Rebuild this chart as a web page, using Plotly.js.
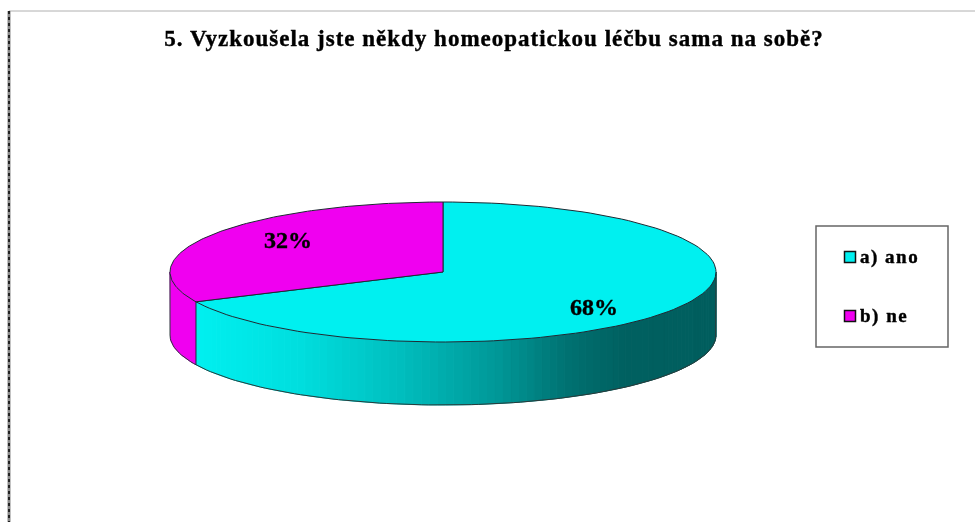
<!DOCTYPE html>
<html><head><meta charset="utf-8">
<script src="https://cdn.plot.ly/plotly-3.0.1.min.js"></script>
<style>html,body{margin:0;padding:0;background:#fff}#c{width:975px;height:522px;filter:blur(0.5px)}
.gtitle{letter-spacing:1px;stroke:#000;stroke-width:0.4px}
.textpoint text{stroke:#000;stroke-width:0.4px}</style>
</head><body><div id="c"></div>
<script>
const categories = ["a) ano", "b) ne"];
const shares = [68, 32];
const topColors = ["#00F0F0", "#F000F0"];
const chartTitle = "5. Vyzkoušela jste někdy homeopatickou léčbu sama na sobě?";

// pie geometry in the pixel-matched axis space
const cx = 443, cy = 272, rx = 273, ry = 70, depth = 63;
const px = a => cx + rx * Math.sin(a * Math.PI / 180);
const py = (a, d = 0) => cy - ry * Math.cos(a * Math.PI / 180) + d;
const range = (a, b, n) => Array.from({length: n + 1}, (_, i) => a + (b - a) * i / n);

// side shading: left-to-right fraction -> cyan into dark teal
const shadeStops = [[196, [0,240,240]], [300, [0,222,222]], [400, [0,190,190]], [500, [0,150,150]], [570, [0,112,112]], [625, [0,96,96]], [716, [0,94,94]]];
function shade(x) {
  for (let i = 1; i < shadeStops.length; i++) {
    const [x0, c0] = shadeStops[i-1], [x1, c1] = shadeStops[i];
    if (x <= x1) { const t = Math.max(0, (x - x0) / (x1 - x0));
      return "rgb(" + c0.map((v, k) => Math.round(v + (c1[k] - v) * t)).join(",") + ")"; }
  }
  return "rgb(0,94,94)";
}

const total = shares.reduce((a, b) => a + b, 0);
const split = shares[0] / total * 360;
const traces = [];
const base = {type: "scatter", mode: "lines", hoverinfo: "skip", showlegend: false, xaxis: "x", yaxis: "y"};

// front wall of the first slice, as narrow shaded strips
const strips = range(90, split, 90);
for (let i = 0; i < strips.length - 1; i++) {
  const a = strips[i], b = strips[i+1], col = shade((px(a) + px(b)) / 2);
  traces.push({...base, x: [px(a), px(b), px(b), px(a), px(a)], y: [py(a), py(b), py(b, depth), py(a, depth), py(a)],
    fill: "toself", fillcolor: col, line: {color: col, width: 1}});
}
// front wall of the second slice
const w = range(split, 270, 20);
traces.push({...base, x: [...w.map(px), ...w.slice().reverse().map(px)],
  y: [...w.map(a => py(a)), ...w.slice().reverse().map(a => py(a, depth))],
  fill: "toself", fillcolor: topColors[1], line: {color: topColors[1], width: 1}});
// wall outlines
const bot = range(90, 270, 120);
traces.push({...base, x: [px(90), ...bot.map(px), px(270)], y: [py(90), ...bot.map(a => py(a, depth)), py(270)],
  line: {color: "#2a3a3a", width: 1}});
traces.push({...base, x: [px(split), px(split)], y: [py(split), py(split, depth)], line: {color: "#1c2a3a", width: 1}});

// top faces
let start = 0;
shares.forEach((v, i) => {
  const sweep = v / total * 360, arc = range(start, start + sweep, 120);
  traces.push({...base, name: categories[i], x: [cx, ...arc.map(px), cx], y: [cy, ...arc.map(a => py(a)), cy],
    fill: "toself", fillcolor: topColors[i], line: {color: "#1e2a33", width: 1}});
  start += sweep;
});

// percentage labels
const labelX = [594, 288], labelY = [309, 242];
traces.push({...base, mode: "text", x: labelX, y: labelY, text: shares.map(v => v + "%"),
  textposition: "middle center", textfont: {family: "Liberation Serif", size: 24, color: "#000"}, texttemplate: "<b>%{text}</b>"});

// legend
const legendY = [257, 316];
traces.push({...base, mode: "markers", x: [850, 850], y: legendY,
  marker: {symbol: "square", size: 11, color: topColors, line: {color: "#111", width: 1.5}}});
traces.push({...base, mode: "text", x: [860, 860], y: [258, 317], text: categories,
  textposition: "middle right", texttemplate: "<b>%{text}</b>",
  textfont: {family: "Liberation Serif", size: 19, color: "#000"}});

const layout = {
  width: 975, height: 522, margin: {l: 0, r: 0, t: 0, b: 0}, showlegend: false,
  paper_bgcolor: "#fff", plot_bgcolor: "#fff",
  xaxis: {range: [0, 975], visible: false, fixedrange: true},
  yaxis: {range: [522, 0], visible: false, fixedrange: true},
  title: {text: "<b>" + chartTitle + "</b>", x: 494 / 975, xanchor: "center", y: 1 - 38 / 522, yanchor: "middle",
    font: {family: "Liberation Serif", size: 23, color: "#000"}},
  shapes: [
    {type: "rect", xref: "x", yref: "y", x0: 816, x1: 948, y0: 226, y1: 347, line: {color: "#666", width: 1.5}, fillcolor: "rgba(0,0,0,0)"},
    {type: "line", xref: "x", yref: "y", x0: 9, x1: 975, y0: 11, y1: 11, line: {color: "#b0b0b0", width: 1}},
    {type: "line", xref: "x", yref: "y", x0: 9, x1: 9, y0: 11, y1: 522, line: {color: "#888", width: 3}},
    {type: "line", xref: "x", yref: "y", x0: 9, x1: 9, y0: 11, y1: 522, line: {color: "#222", width: 2, dash: "dot"}}
  ]
};
Plotly.newPlot("c", traces, layout, {displayModeBar: false, staticPlot: true}).then(() => {
  document.querySelectorAll("#c .textpoint text").forEach(t => {
    if (/^[ab]\)/.test(t.textContent)) t.style.letterSpacing = "1.5px";
  });
});
</script></body></html>
